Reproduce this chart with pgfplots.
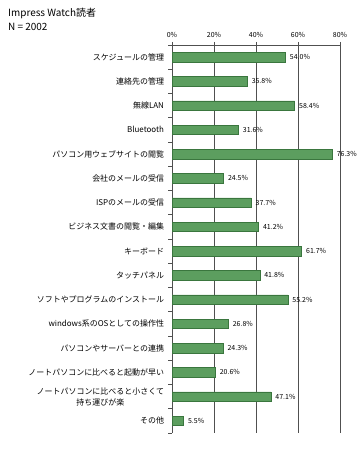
\documentclass[border=0pt]{standalone}
\usepackage{pgfplots}
\pgfplotsset{compat=1.18}
\usepackage{fontspec}
\setmainfont{Noto Sans CJK JP}
\definecolor{barfill}{RGB}{92,158,95}
\definecolor{baredge}{RGB}{58,118,62}
\definecolor{gridc}{RGB}{80,80,80}
\begin{document}
\begin{tikzpicture}[x=1bp,y=1bp]
\path[use as bounding box] (0,0) rectangle (360,449);
\node[anchor=west,inner sep=0pt,font=\fontsize{10}{12}\selectfont] at (8,436) {Impress Watch読者};
\node[anchor=west,inner sep=0pt,font=\fontsize{10}{12}\selectfont] at (8,422) {N = 2002};
\begin{axis}[
  at={(172bp,16bp)}, anchor=south west,
  scale only axis, width=168bp, height=388bp,
  xbar, bar width=9.5bp,
  xmin=0, xmax=80, ymin=-0.5, ymax=15.5,
  axis x line*=top, axis y line*=left,
  axis line style={-, draw=gridc, line width=0.8bp},
  /pgf/number format/assume math mode=true,
  xtick={0,20,40,60,80},
  xticklabels={0\%,20\%,40\%,60\%,80\%},
  xticklabel style={font=\fontsize{7}{8}\selectfont, yshift=1bp},
  xmajorgrids, major grid style={draw=gridc, line width=0.8bp},
  ytick={0,...,15},
  yticklabels={その他,
    {ノートパソコンに比べると小さくて\\持ち運びが楽},
    ノートパソコンに比べると起動が早い,
    パソコンやサーバーとの連携,
    windows系のOSとしての操作性,
    ソフトやプログラムのインストール,
    タッチパネル,
    キーボード,
    ビジネス文書の閲覧・編集,
    ISPのメールの受信,
    会社のメールの受信,
    パソコン用ウェブサイトの閲覧,
    Bluetooth,
    無線LAN,
    連絡先の管理,
    スケジュールの管理},
  yticklabel style={font=\fontsize{8}{11}\selectfont, align=center, xshift=-1.5bp},
  every major y tick/.append style={draw=none},
  minor ytick={-0.5,0.5,...,15.5},
  minor tick length=4bp, major tick length=3bp,
  tick align=outside,
  tick style={draw=gridc, line width=0.6bp},
  point meta=x,
  nodes near coords={\pgfmathprintnumber[fixed,fixed zerofill,precision=1]{\pgfplotspointmeta}\%},
  nodes near coords align=horizontal,
  every node near coord/.append style={font=\fontsize{7}{8}\selectfont, black, xshift=1bp},
]
\addplot[fill=barfill, draw=baredge, line width=0.5bp] coordinates {
  (54.0,15) (35.8,14) (58.4,13) (31.6,12) (76.3,11) (24.5,10)
  (37.7,9) (41.2,8) (61.7,7) (41.8,6) (55.2,5) (26.8,4)
  (24.3,3) (20.6,2) (47.1,1) (5.5,0)
};
\end{axis}
\end{tikzpicture}
\end{document}
